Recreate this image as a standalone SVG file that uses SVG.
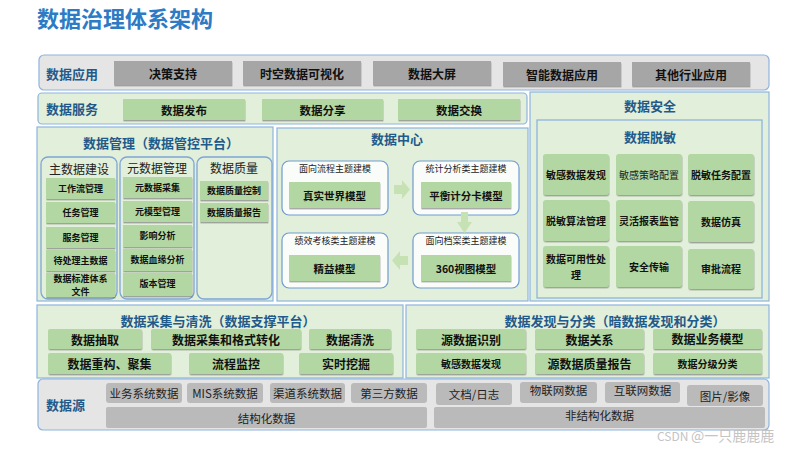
<svg xmlns="http://www.w3.org/2000/svg" width="800" height="450" viewBox="0 0 800 450">
<defs>
<filter id="sh" x="-10%" y="-20%" width="120%" height="160%"><feDropShadow dx="0.4" dy="1.4" stdDeviation="0.7" flood-color="#666" flood-opacity="0.55"/></filter>
</defs>
<style>
text{font-family:"Noto Sans CJK SC","Liberation Sans",sans-serif;}
.pg{fill:#e2efda;stroke:#8eb4de;stroke-width:1.2}
.pw{fill:#e5e5e5;stroke:#8eb4de;stroke-width:1.2}
.col{fill:#e2efda;stroke:#7da6d6;stroke-width:1.3}
.wb{fill:#fafcf9;stroke:#6f9bd1;stroke-width:1.2}
.gb{fill:#b3d7a3;filter:url(#sh)}
.gr{fill:#a6a6a6;filter:url(#sh)}
.sg{fill:#bababa}
.hd{fill:#1f5a8a;font-weight:bold;font-size:13px;dominant-baseline:central}
.ct{text-anchor:middle}
.bt{fill:#111;font-weight:bold;text-anchor:middle;dominant-baseline:central}
.nt{fill:#222;text-anchor:middle;dominant-baseline:central}
.ar{fill:#c6e2b5}
</style>
<text x="37" y="27" font-size="22" font-weight="bold" fill="#2c7bc4">数据治理体系架构</text>

<g id="app">
<rect class="pw" x="39" y="55" width="730" height="35" rx="5"/>
<text class="hd" x="46" y="73">数据应用</text>
<rect class="gr" x="114" y="61" width="118" height="24"/><text class="bt" x="173" y="73" font-size="12">决策支持</text>
<rect class="gr" x="243" y="61" width="118" height="24"/><text class="bt" x="302" y="73" font-size="12">时空数据可视化</text>
<rect class="gr" x="373" y="61" width="118" height="24"/><text class="bt" x="432" y="73" font-size="12">数据大屏</text>
<rect class="gr" x="503" y="62" width="118" height="24"/><text class="bt" x="562" y="74" font-size="12">智能数据应用</text>
<rect class="gr" x="632" y="62" width="118" height="24"/><text class="bt" x="691" y="74" font-size="12">其他行业应用</text>
</g>

<g id="service">
<rect class="pg" x="38" y="93" width="489" height="31" rx="4"/>
<text class="hd" x="46" y="108">数据服务</text>
<rect class="gb" x="123" y="99" width="122" height="21"/><text class="bt" x="184" y="109.5" font-size="11.5">数据发布</text>
<rect class="gb" x="262" y="99" width="121" height="21"/><text class="bt" x="322.5" y="109.5" font-size="11.5">数据分享</text>
<rect class="gb" x="398" y="99" width="122" height="21"/><text class="bt" x="459" y="109.5" font-size="11.5">数据交换</text>
</g>

<g id="security">
<rect class="pg" x="530" y="92" width="239" height="209"/>
<text class="hd ct" x="650" y="105">数据安全</text>
<rect x="537" y="120" width="225" height="178" style="fill:#e2efda;stroke:#8eb4de;stroke-width:1.3"/>
<text class="hd ct" x="650" y="136" font-size="11.5">数据脱敏</text>
<rect class="gb" x="543" y="154" width="66" height="41" rx="3"/><text class="bt" x="576" y="174.5" font-size="10">敏感数据发现</text>
<rect class="gb" x="616" y="154" width="66" height="41" rx="3"/><text class="nt" x="649" y="174.5" font-size="10" fill="#555">敏感策略配置</text>
<rect class="gb" x="688" y="154" width="66" height="41" rx="3"/><text class="bt" x="721" y="174.5" font-size="10">脱敏任务配置</text>
<rect class="gb" x="543" y="200" width="66" height="41" rx="3"/><text class="bt" x="576" y="220" font-size="10">脱敏算法管理</text>
<rect class="gb" x="616" y="200" width="66" height="41" rx="3"/><text class="bt" x="649" y="220" font-size="10">灵活报表监管</text>
<rect class="gb" x="688" y="201" width="66" height="41" rx="3"/><text class="bt" x="721" y="221.5" font-size="10">数据仿真</text>
<rect class="gb" x="543" y="246" width="66" height="41" rx="3"/><text class="bt" x="576" y="258.5" font-size="10">数据可用性处</text><text class="bt" x="576" y="274" font-size="10">理</text>
<rect class="gb" x="616" y="246" width="66" height="41" rx="3"/><text class="bt" x="649" y="266" font-size="10">安全传输</text>
<rect class="gb" x="688" y="249" width="66" height="40" rx="3"/><text class="bt" x="721" y="268.5" font-size="10">审批流程</text>
</g>

<g id="management">
<rect class="pg" x="37" y="127" width="236" height="174"/>
<text class="hd ct" x="161" y="142">数据管理（数据管控平台）</text>
<rect class="col" x="41" y="157" width="76" height="142" rx="7"/>
<rect class="col" x="120" y="157" width="74" height="142" rx="7"/>
<rect class="col" x="197" y="157" width="75" height="142" rx="7"/>
<text class="nt" x="79" y="168" font-size="12">主数据建设</text>
<text class="nt" x="157" y="167" font-size="12">元数据管理</text>
<text class="nt" x="234" y="167" font-size="12">数据质量</text>
<rect class="gb" x="46" y="178" width="69" height="21"/><text class="bt" x="80.5" y="188.5" font-size="9">工作流管理</text>
<rect class="gb" x="46" y="202" width="69" height="21"/><text class="bt" x="80.5" y="212.5" font-size="9">任务管理</text>
<rect class="gb" x="46" y="227" width="69" height="21"/><text class="bt" x="80.5" y="237.5" font-size="9">服务管理</text>
<rect class="gb" x="46" y="250" width="69" height="21"/><text class="bt" x="80.5" y="260.5" font-size="9">待处理主数据</text>
<rect class="gb" x="46" y="273" width="69" height="24"/><text class="bt" x="80.5" y="278.5" font-size="9">数据标准体系</text><text class="bt" x="80.5" y="291.5" font-size="9">文件</text>
<rect class="gb" x="123" y="177" width="69" height="21"/><text class="bt" x="157.5" y="187.5" font-size="9">元数据采集</text>
<rect class="gb" x="123" y="201" width="69" height="21"/><text class="bt" x="157.5" y="211.5" font-size="9">元模型管理</text>
<rect class="gb" x="123" y="225" width="69" height="22"/><text class="bt" x="157.5" y="235.5" font-size="9">影响分析</text>
<rect class="gb" x="123" y="249" width="69" height="22"/><text class="bt" x="157.5" y="259.5" font-size="9">数据血缘分析</text>
<rect class="gb" x="123" y="273" width="69" height="23"/><text class="bt" x="157.5" y="283.5" font-size="9">版本管理</text>
<rect class="gb" x="200" y="181" width="68" height="19"/><text class="bt" x="234" y="190" font-size="9">数据质量控制</text>
<rect class="gb" x="200" y="203" width="68" height="19"/><text class="bt" x="234" y="212" font-size="9">数据质量报告</text>
</g>

<g id="center">
<rect class="pg" x="277" y="128" width="251" height="173"/>
<text class="hd ct" x="397" y="138">数据中心</text>
<g id="c1">
<rect class="wb" x="282" y="161" width="106" height="54" rx="7"/>
<text class="nt" x="335" y="168" font-size="9">面向流程主题建模</text>
<rect class="gb" x="289" y="182" width="91" height="26"/><text class="bt" x="334.5" y="195" font-size="10.5">真实世界模型</text>
</g>
<g id="c2">
<rect class="wb" x="413" y="161" width="106" height="54" rx="7"/>
<text class="nt" x="466" y="168" font-size="9">统计分析类主题建模</text>
<rect class="gb" x="421" y="182" width="90" height="26"/><text class="bt" x="466" y="195" font-size="10.5">平衡计分卡模型</text>
</g>
<g id="c3">
<rect class="wb" x="282" y="233" width="106" height="55" rx="7"/>
<text class="nt" x="335" y="240" font-size="9">绩效考核类主题建模</text>
<rect class="gb" x="289" y="255" width="91" height="26"/><text class="bt" x="334.5" y="268" font-size="10.5">精益模型</text>
</g>
<g id="c4">
<rect class="wb" x="413" y="233" width="106" height="55" rx="7"/>
<text class="nt" x="466" y="240" font-size="9">面向档案类主题建模</text>
<rect class="gb" x="421" y="255" width="90" height="26"/><text class="bt" x="466" y="268" font-size="10.5">360视图模型</text>
</g>
</g>

<g id="connectors">
<polygon class="ar" points="394,185 402,185 402,180 410,189.5 402,199 402,194 394,194"/>
<polygon class="ar" points="461,212 468,212 468,222 472,222 464.5,233 457,222 461,222"/>
<polygon class="ar" points="408,256 400,256 400,251 392,260.5 400,270 400,265 408,265"/>
</g>

<g id="collect">
<rect class="pg" x="37" y="305" width="366" height="73"/>
<text class="hd ct" x="218" y="320">数据采集与清洗（数据支撑平台）</text>
<rect class="gb" x="48" y="329" width="94" height="20" rx="2"/><text class="bt" x="95" y="339" font-size="12">数据抽取</text>
<rect class="gb" x="151" y="329" width="150" height="20" rx="2"/><text class="bt" x="226" y="339" font-size="12">数据采集和格式转化</text>
<rect class="gb" x="309" y="329" width="82" height="20" rx="2"/><text class="bt" x="350" y="339.5" font-size="12">数据清洗</text>
<rect class="gb" x="48" y="353" width="123" height="21" rx="2"/><text class="bt" x="109.5" y="363.5" font-size="12">数据重构、聚集</text>
<rect class="gb" x="189" y="353" width="94" height="21" rx="2"/><text class="bt" x="236" y="363.5" font-size="12">流程监控</text>
<rect class="gb" x="299" y="353" width="94" height="21" rx="2"/><text class="bt" x="346" y="363" font-size="12">实时挖掘</text>
</g>

<g id="discover">
<rect class="pg" x="406" y="305" width="363" height="73"/>
<text class="hd ct" x="615" y="320">数据发现与分类（暗数据发现和分类）</text>
<rect class="gb" x="416" y="329" width="110" height="20" rx="2"/><text class="bt" x="471" y="339" font-size="12">源数据识别</text>
<rect class="gb" x="535" y="329" width="109" height="20" rx="2"/><text class="bt" x="589.5" y="339.5" font-size="12">数据关系</text>
<rect class="gb" x="653" y="329" width="109" height="20" rx="2"/><text class="bt" x="707.5" y="338.5" font-size="12">数据业务模型</text>
<rect class="gb" x="416" y="353" width="110" height="21" rx="2"/><text class="bt" x="471" y="363.5" font-size="10">敏感数据发现</text>
<rect class="gb" x="535" y="353" width="109" height="21" rx="2"/><text class="bt" x="589.5" y="363.5" font-size="12">源数据质量报告</text>
<rect class="gb" x="653" y="353" width="109" height="21" rx="2"/><text class="bt" x="707.5" y="363" font-size="10">数据分级分类</text>
</g>

<g id="source">
<rect class="pw" x="38" y="379" width="731" height="51" rx="5"/>
<text class="hd" x="46" y="404">数据源</text>
<rect class="sg" x="106" y="383" width="76" height="20" rx="3"/><text class="nt" x="144" y="393" font-size="11.5">业务系统数据</text>
<rect class="sg" x="187" y="383" width="76" height="20" rx="3"/><text class="nt" x="225" y="393" font-size="11.5">MIS系统数据</text>
<rect class="sg" x="270" y="383" width="75" height="20" rx="3"/><text class="nt" x="307.5" y="393" font-size="11.5">渠道系统数据</text>
<rect class="sg" x="351" y="383" width="76" height="20" rx="3"/><text class="nt" x="389" y="393" font-size="11.5">第三方数据</text>
<rect class="sg" x="436" y="383" width="76" height="22" rx="3"/><text class="nt" x="474" y="394" font-size="11.5">文档/日志</text>
<rect class="sg" x="520" y="382" width="77" height="21" rx="3"/><text class="nt" x="558.5" y="390" font-size="11.5">物联网数据</text>
<rect class="sg" x="605" y="382" width="75" height="21" rx="3"/><text class="nt" x="642.5" y="390" font-size="11.5">互联网数据</text>
<rect class="sg" x="687" y="385" width="76" height="21" rx="3"/><text class="nt" x="725" y="395.5" font-size="11.5">图片/影像</text>
<rect class="sg" x="106" y="407" width="321" height="21" rx="2"/><text class="nt" x="266.5" y="417.5" font-size="11.5">结构化数据</text>
<rect class="sg" x="434" y="407" width="331" height="21" rx="2"/><text class="nt" x="599.5" y="414.5" font-size="11.5">非结构化数据</text>
</g>

<text x="657" y="441" fill="#c4c4c4" font-size="12">CSDN <tspan font-size="14">@一只鹿鹿鹿</tspan></text>
</svg>
